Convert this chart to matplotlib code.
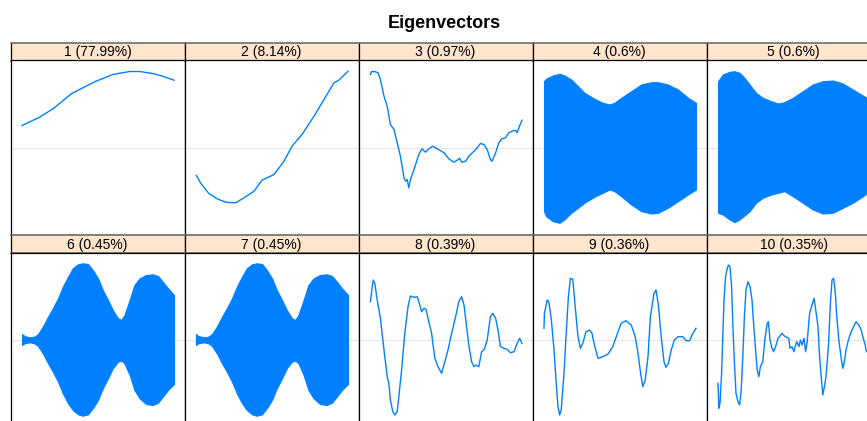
import matplotlib.pyplot as plt
import numpy as np

# strip labels (eigenvector number and share of variance)
labels = ['1 (77.99%)', '2 (8.14%)', '3 (0.97%)', '4 (0.6%)', '5 (0.6%)',
          '6 (0.45%)', '7 (0.45%)', '8 (0.39%)', '9 (0.36%)', '10 (0.35%)']

# smooth eigenvectors, index / value pairs
ev1_x = [1, 45, 82, 124, 153, 186, 228, 270, 295, 328, 353, 381]
ev1_y = [0.022, 0.0303, 0.0397, 0.0537, 0.0597, 0.0663, 0.073, 0.076, 0.076, 0.074, 0.0713, 0.0673]

ev2_x = [2, 12, 33, 54, 75, 100, 121, 146, 166, 196, 221, 241, 266, 296, 316, 346, 358, 381]
ev2_y = [-0.028, -0.0353, -0.046, -0.0513, -0.0547, -0.0553, -0.0503, -0.0437, -0.0327, -0.027,
         -0.0137, 0.0013, 0.013, 0.0313, 0.0447, 0.0647, 0.0673, 0.0763]

ev3_x = [2, 5, 15, 21, 27, 36, 44, 52, 61, 69, 77, 86, 90, 94, 98, 102, 111, 119, 123, 131,
         140, 148, 158, 169, 186, 198, 211, 219, 225, 230, 240, 248, 261, 269, 277, 286, 294,
         302, 306, 315, 323, 331, 340, 348, 356, 365, 369, 373, 381]
ev3_y = [0.073, 0.076, 0.0757, 0.0747, 0.068, 0.0513, 0.0413, 0.023, 0.018, 0.0047, -0.0087,
         -0.0303, -0.0337, -0.032, -0.0403, -0.032, -0.022, -0.012, -0.007, -0.0013, -0.0047,
         -0.0013, 0.0013, -0.0013, -0.0053, -0.0113, -0.0147, -0.0127, -0.0107, -0.0147, -0.0137,
         -0.0087, -0.0037, -0.0003, 0.004, 0.003, -0.002, -0.012, -0.0137, -0.0053, 0.0047,
         0.0087, 0.0097, 0.0147, 0.0163, 0.0173, 0.0147, 0.0197, 0.0273]

ev8_x = [2, 5, 9, 13, 19, 27, 36, 44, 48, 52, 58, 63, 69, 73, 80, 88, 96, 102, 111, 119, 123,
         130, 136, 141, 146, 155, 163, 171, 180, 188, 196, 206, 215, 223, 230, 236, 241, 248,
         255, 261, 266, 273, 280, 286, 294, 302, 308, 315, 321, 327, 336, 344, 352, 361, 369,
         375, 381]
ev8_y = [0.0383, 0.0483, 0.06, 0.0567, 0.04, 0.0217, -0.01, -0.0367, -0.0433, -0.06, -0.0717,
         -0.075, -0.0717, -0.0567, -0.03, 0.0067, 0.0333, 0.044, 0.0427, 0.0433, 0.0383, 0.0283,
         0.0317, 0.0307, 0.0217, 0.0067, -0.0183, -0.0267, -0.0333, -0.0217, -0.01, 0.0083,
         0.0233, 0.0383, 0.0433, 0.035, 0.0183, -0.005, -0.0217, -0.0267, -0.025, -0.0267,
         -0.0117, -0.01, 0.0, 0.0233, 0.0267, 0.0217, 0.01, -0.0067, -0.0083, -0.0093, -0.0127,
         -0.0117, -0.0033, 0.0017, -0.0033]

ev9_x = [1, 2, 9, 13, 19, 26, 31, 36, 40, 44, 51, 56, 62, 67, 73, 79, 86, 92, 98, 106, 115,
         121, 127, 136, 148, 161, 173, 186, 194, 206, 219, 229, 236, 242, 248, 254, 261, 267,
         276, 281, 287, 294, 301, 306, 312, 319, 327, 336, 348, 356, 365, 371, 381]
ev9_y = [0.0117, 0.0267, 0.04, 0.0383, 0.0217, -0.01, -0.04, -0.0667, -0.075, -0.07, -0.0333,
         0.0033, 0.0433, 0.0617, 0.0607, 0.0333, 0.0033, -0.0083, -0.0033, 0.0083, 0.01, 0.0067,
         -0.005, -0.0183, -0.0167, -0.014, -0.0067, 0.0083, 0.0167, 0.0193, 0.015, 0.0033,
         -0.0133, -0.0317, -0.0467, -0.04, -0.0167, 0.0233, 0.0467, 0.05, 0.035, 0.0033, -0.0217,
         -0.0273, -0.0233, -0.01, 0.0, 0.0033, 0.0033, -0.0007, -0.0007, 0.005, 0.0117]

ev10_x = [1, 2, 3, 6, 10, 13, 16, 20, 23, 27, 31, 35, 38, 42, 46, 51, 55, 59, 63, 67, 71, 76,
          81, 86, 90, 95, 99, 103, 107, 113, 118, 124, 127, 131, 136, 140, 145, 151, 156, 161,
          167, 173, 178, 181, 186, 191, 195, 198, 203, 207, 211, 216, 220, 224, 230, 236, 241,
          246, 251, 255, 259, 263, 267, 271, 277, 282, 286, 290, 294, 298, 303, 309, 313, 317,
          321, 327, 334, 340, 346, 353, 359, 363, 369, 372, 381]
ev10_y = [-0.0433, -0.0533, -0.0683, -0.0633, -0.0333, 0.0033, 0.04, 0.0633, 0.07, 0.075,
          0.0733, 0.0533, 0.0167, -0.0233, -0.0533, -0.0617, -0.065, -0.05, -0.0167, 0.0233,
          0.05, 0.0583, 0.0533, 0.04, 0.0167, -0.01, -0.03, -0.0367, -0.0267, -0.0217, 0.0,
          0.0167, 0.0183, 0.0, -0.0083, -0.0117, -0.0067, 0.0017, 0.004, 0.0067, 0.004, 0.0027,
          0.0017, -0.0083, -0.0067, -0.0117, -0.005, -0.0017, -0.0067, 0.0, -0.005, 0.0017,
          -0.0117, -0.0017, 0.0267, 0.035, 0.0417, 0.0283, 0.0133, -0.0167, -0.0367, -0.055,
          -0.0467, -0.0367, -0.0067, 0.0367, 0.06, 0.0617, 0.0483, 0.0233, 0.0, -0.0183,
          -0.0283, -0.0217, -0.01, 0.0, 0.0083, 0.0133, 0.0183, 0.015, 0.01, 0.0033, -0.005,
          -0.0117, -0.01]

# fast oscillating eigenvectors: upper / lower envelopes
ev4_x = [1, 6, 23, 40, 52, 69, 86, 102, 127, 148, 165, 177, 194, 219, 244, 269, 286, 311, 336, 361, 381]
ev4_hi = [0.0663, 0.0687, 0.072, 0.0737, 0.072, 0.068, 0.0613, 0.0547, 0.0487, 0.0447, 0.043,
          0.0447, 0.0497, 0.0563, 0.063, 0.0653, 0.0653, 0.063, 0.058, 0.0497, 0.0447]
ev4_lo = [-0.0637, -0.0687, -0.0737, -0.0753, -0.072, -0.0653, -0.0603, -0.0553, -0.0493, -0.0453,
          -0.042, -0.0437, -0.0487, -0.057, -0.0637, -0.066, -0.0653, -0.0603, -0.0537, -0.047, -0.042]

ev5_x = [1, 13, 30, 42, 55, 67, 80, 96, 113, 134, 151, 167, 188, 213, 238, 263, 288, 313, 338, 363, 381]
ev5_hi = [0.0663, 0.073, 0.0757, 0.0763, 0.0747, 0.0697, 0.063, 0.0547, 0.0497, 0.0463, 0.044,
          0.0453, 0.0497, 0.0563, 0.063, 0.0663, 0.067, 0.064, 0.058, 0.052, 0.048]
ev5_lo = [-0.0653, -0.067, -0.072, -0.0747, -0.072, -0.068, -0.0637, -0.0553, -0.0503, -0.047,
          -0.0453, -0.0437, -0.0487, -0.0553, -0.062, -0.066, -0.0653, -0.0603, -0.0553, -0.0487, -0.044]

ev6_x = [1, 7, 20, 32, 41, 53, 66, 78, 91, 103, 116, 128, 141, 153, 166, 178, 191, 203, 216,
         228, 241, 249, 257, 270, 282, 295, 311, 328, 341, 353, 366, 381]
ev6_hi = [0.006, 0.004, 0.0027, 0.0033, 0.006, 0.0133, 0.0233, 0.0317, 0.0417, 0.0533, 0.0633,
          0.0717, 0.0757, 0.0767, 0.076, 0.07, 0.0617, 0.05, 0.04, 0.03, 0.0217, 0.02, 0.025,
          0.04, 0.055, 0.0617, 0.065, 0.0657, 0.064, 0.0583, 0.0517, 0.045]
ev6_lo = [-0.005, -0.0033, -0.0023, -0.0033, -0.006, -0.0133, -0.0233, -0.0317, -0.0417, -0.0533,
          -0.0633, -0.07, -0.0743, -0.0757, -0.0743, -0.0683, -0.06, -0.0483, -0.0383, -0.0283,
          -0.0217, -0.0207, -0.0233, -0.035, -0.05, -0.0583, -0.064, -0.065, -0.0627, -0.0567,
          -0.05, -0.044]

ev7_x = ev6_x
ev7_hi = ev6_hi
ev7_lo = ev6_lo

col = '#0080ff'
W, H = 867, 421

def box(left, top, w, h):
    return [left / W, 1 - (top + h) / H, w / W, h / H]

fig = plt.figure(figsize=(W / 100, H / 100), dpi=100)
plt.rcParams['font.family'] = ['Liberation Sans', 'DejaVu Sans']

fig.text(444 / W, 1 - 23 / H, 'Eigenvectors', ha='center', va='center',
         fontsize=13, fontweight='bold')

lines = {0: (ev1_x, ev1_y), 1: (ev2_x, ev2_y), 2: (ev3_x, ev3_y),
         7: (ev8_x, ev8_y), 8: (ev9_x, ev9_y), 9: (ev10_x, ev10_y)}
bands = {3: (ev4_x, ev4_hi, ev4_lo), 4: (ev5_x, ev5_hi, ev5_lo),
         5: (ev6_x, ev6_hi, ev6_lo), 6: (ev7_x, ev7_hi, ev7_lo)}

for i in range(10):
    r, c = i // 5, i % 5
    left = 10.5 + 174 * c
    strip_top = [42.5, 235.0][r]

    # strip
    sax = fig.add_axes(box(left, strip_top, 174, 18))
    sax.set_facecolor('#ffe5cc')
    sax.set_xticks([])
    sax.set_yticks([])
    for s in ['top', 'bottom']:
        sax.spines[s].set_color('#6e6e6e')
        sax.spines[s].set_linewidth(1.2)
    for s in ['left', 'right']:
        sax.spines[s].set_color('black')
        sax.spines[s].set_linewidth(0.9)
    sax.text(0.5, 0.45, labels[i], ha='center', va='center', fontsize=10,
             transform=sax.transAxes)

    # panel body
    ax = fig.add_axes(box(left, strip_top + 18, 174, 174))
    ax.axhline(0, color='#e6e6e6', lw=0.8, zorder=0)
    if i in lines:
        x, y = lines[i]
        ax.plot(x, y, color=col, lw=1.0)
    else:
        x, hi, lo = bands[i]
        ax.fill_between(x, lo, hi, color=col, lw=0.8, edgecolor=col)
    ax.set_xlim(-27.75, 407.25)
    ax.set_ylim(-0.087, 0.087)
    ax.set_xticks([])
    ax.set_yticks([])
    for s in ax.spines.values():
        s.set_color('black')
        s.set_linewidth(0.9)

plt.savefig('out.png', dpi=100)
